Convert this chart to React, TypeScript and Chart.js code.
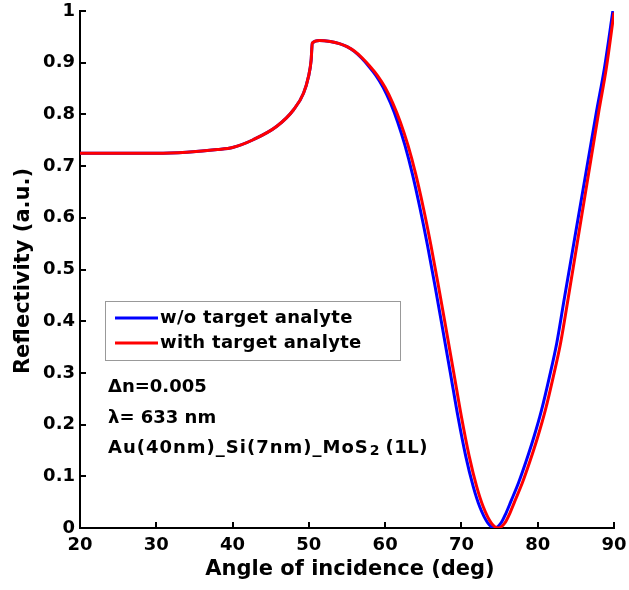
import React, { useEffect, useRef } from "react";
import { Chart, registerables } from "chart.js";

Chart.register(...registerables);

// ---- data ----
const angleWith = [20, 25, 30, 34, 38, 40, 42.7, 45.8, 48, 49.3, 49.95, 50.3, 50.45, 51.4, 52.8, 54, 55, 56, 57, 58, 59, 60, 61, 62, 63, 64, 65, 66, 67, 68, 69, 70, 71, 72, 72.86, 73.9, 74.85, 75.7, 76.36, 77, 78, 79, 80, 81, 82, 83, 84, 85, 86, 87, 88, 89, 90];
const reflWith = [0.725, 0.725, 0.725, 0.727, 0.732, 0.736, 0.751, 0.777, 0.809, 0.841, 0.873, 0.905, 0.938, 0.943, 0.941, 0.937, 0.931, 0.922, 0.909, 0.893, 0.875, 0.852, 0.822, 0.785, 0.74, 0.685, 0.62, 0.547, 0.467, 0.384, 0.3, 0.215, 0.14, 0.08, 0.041, 0.01, 0.0, 0.01, 0.029, 0.052, 0.088, 0.13, 0.176, 0.228, 0.29, 0.358, 0.445, 0.535, 0.625, 0.715, 0.805, 0.89, 0.997];

const angleWithout = [20, 25, 30, 34, 38, 40, 42.7, 45.8, 48, 49.3, 49.95, 50.3, 50.45, 51.4, 52.8, 54, 55, 55.95, 56.9, 57.85, 58.8, 59.75, 60.7, 61.65, 62.6, 63.57, 64.55, 65.55, 66.55, 67.55, 68.55, 69.55, 70.55, 71.55, 72.4, 73.45, 74.35, 75.2, 75.85, 76.5, 77.5, 78.5, 79.5, 80.5, 81.5, 82.5, 83.5, 84.55, 85.6, 86.65, 87.7, 88.75, 89.85];
const reflWithout = [0.725, 0.725, 0.725, 0.727, 0.732, 0.736, 0.751, 0.777, 0.809, 0.841, 0.873, 0.905, 0.938, 0.943, 0.941, 0.937, 0.931, 0.922, 0.909, 0.893, 0.875, 0.852, 0.822, 0.785, 0.74, 0.685, 0.62, 0.547, 0.467, 0.384, 0.3, 0.215, 0.14, 0.08, 0.041, 0.01, 0.0, 0.01, 0.029, 0.052, 0.088, 0.13, 0.176, 0.228, 0.29, 0.358, 0.445, 0.535, 0.625, 0.715, 0.805, 0.89, 1.0];

const xTickValues = [20, 30, 40, 50, 60, 70, 80, 90];
const yTickValues = [0, 0.1, 0.2, 0.3, 0.4, 0.5, 0.6, 0.7, 0.8, 0.9, 1];

const seriesLabels = ["w/o target analyte", "with target analyte"];
const seriesColors = ["#0000ff", "#ff0000"];
const xTitle = "Angle of incidence (deg)";
const yTitle = "Reflectivity (a.u.)";
const noteLines = ["\u0394n=0.005", "\u03bb= 633 nm"];

const FONT = "'DejaVu Sans', sans-serif";

const decorPlugin = {
  id: "decor",
  afterDraw(chart: any) {
    const { ctx, chartArea, scales } = chart;
    const xs = scales.x;
    const ys = scales.y;
    ctx.save();
    // inward tick marks
    ctx.strokeStyle = "#000";
    ctx.lineWidth = 2;
    ctx.beginPath();
    xTickValues.forEach((v) => {
      const px = Math.round(xs.getPixelForValue(v));
      ctx.moveTo(px, chartArea.bottom);
      ctx.lineTo(px, chartArea.bottom - 6);
    });
    yTickValues.forEach((v) => {
      const py = Math.round(ys.getPixelForValue(v));
      ctx.moveTo(chartArea.left, py);
      ctx.lineTo(chartArea.left + 6, py);
    });
    ctx.stroke();

    // axis titles
    ctx.fillStyle = "#000";
    ctx.font = `bold 21px ${FONT}`;
    ctx.textAlign = "center";
    ctx.textBaseline = "middle";
    ctx.fillText(xTitle, 350, 570);
    ctx.save();
    ctx.translate(24, 271);
    ctx.rotate(-Math.PI / 2);
    ctx.fillText(yTitle, 0, 0);
    ctx.restore();

    // legend box
    ctx.fillStyle = "#fff";
    ctx.fillRect(105, 301, 296, 60);
    ctx.strokeStyle = "#999";
    ctx.lineWidth = 1;
    ctx.strokeRect(105.5, 301.5, 295, 59);
    const rowsY = [318, 343];
    seriesLabels.forEach((lab, i) => {
      ctx.strokeStyle = seriesColors[i];
      ctx.lineWidth = 3;
      ctx.beginPath();
      ctx.moveTo(115, rowsY[i]);
      ctx.lineTo(158, rowsY[i]);
      ctx.stroke();
      ctx.fillStyle = "#000";
      ctx.font = `bold 18px ${FONT}`;
      ctx.textAlign = "left";
      ctx.textBaseline = "middle";
      (ctx as any).letterSpacing = "0.3px";
      ctx.fillText(lab, 160, rowsY[i]);
      (ctx as any).letterSpacing = "0px";
    });

    // notes
    ctx.font = `bold 18px ${FONT}`;
    ctx.textAlign = "left";
    ctx.textBaseline = "middle";
    ctx.fillText(noteLines[0], 108, 387);
    ctx.fillText(noteLines[1], 108, 418);
    let x = 108;
    const y = 448;
    const part1 = "Au(40nm)_Si(7nm)_MoS";
    (ctx as any).letterSpacing = "1px";
    ctx.fillText(part1, x, y);
    x += ctx.measureText(part1).width;
    (ctx as any).letterSpacing = "0px";
    ctx.font = `bold 14px ${FONT}`;
    ctx.fillText("2", x + 1, y + 3);
    x += ctx.measureText("2").width + 7;
    ctx.font = `bold 18px ${FONT}`;
    (ctx as any).letterSpacing = "0.5px";
    ctx.fillText("(1L)", x, y);
    (ctx as any).letterSpacing = "0px";
    ctx.restore();
  },
};

export default function App() {
  const ref = useRef<HTMLCanvasElement | null>(null);
  useEffect(() => {
    if (!ref.current) return;
    const chart = new Chart(ref.current, {
      type: "line",
      data: {
        datasets: [
          {
            label: seriesLabels[0],
            data: angleWithout.map((a, i) => ({ x: a, y: reflWithout[i] })),
            borderColor: seriesColors[0],
            borderWidth: 3,
            pointRadius: 0,
            cubicInterpolationMode: "monotone",
            fill: false,
            order: 2,
          },
          {
            label: seriesLabels[1],
            data: angleWith.map((a, i) => ({ x: a, y: reflWith[i] })),
            borderColor: seriesColors[1],
            borderWidth: 3,
            pointRadius: 0,
            cubicInterpolationMode: "monotone",
            fill: false,
            order: 1,
          },
        ],
      },
      options: {
        animation: false,
        responsive: false,
        devicePixelRatio: 1,
        layout: { padding: { left: 0, top: 11, right: 15, bottom: 0 } },
        plugins: { legend: { display: false }, tooltip: { enabled: false } },
        scales: {
          x: {
            type: "linear",
            min: 20,
            max: 90,
            afterBuildTicks: (s: any) => {
              s.ticks = xTickValues.map((v) => ({ value: v }));
            },
            afterFit: (s: any) => {
              s.height = 62;
              s.paddingLeft = 0;
              s.paddingRight = 0;
            },
            grid: { display: false, drawTicks: false, tickLength: 0 },
            border: { display: true, color: "#000", width: 2 },
            ticks: {
              color: "#000",
              padding: 7,
              maxRotation: 0,
              autoSkip: false,
              font: { family: FONT, weight: "bold", size: 18 },
            },
          },
          y: {
            type: "linear",
            min: 0,
            max: 1,
            afterBuildTicks: (s: any) => {
              s.ticks = yTickValues.map((v) => ({ value: v }));
            },
            afterFit: (s: any) => {
              s.width = 80;
              s.paddingTop = 0;
              s.paddingBottom = 0;
            },
            grid: { display: false, drawTicks: false, tickLength: 0 },
            border: { display: true, color: "#000", width: 2 },
            ticks: {
              color: "#000",
              padding: 5,
              autoSkip: false,
              callback: (v: any) => String(Math.round(Number(v) * 10) / 10),
              font: { family: FONT, weight: "bold", size: 18 },
            },
          },
        },
      },
      plugins: [decorPlugin],
    });
    return () => chart.destroy();
  }, []);
  return (
    <div style={{ position: "fixed", left: 0, top: 0, width: 629, height: 590, background: "#fff" }}>
      <canvas ref={ref} width={629} height={590} style={{ width: 629, height: 590 }} />
    </div>
  );
}
